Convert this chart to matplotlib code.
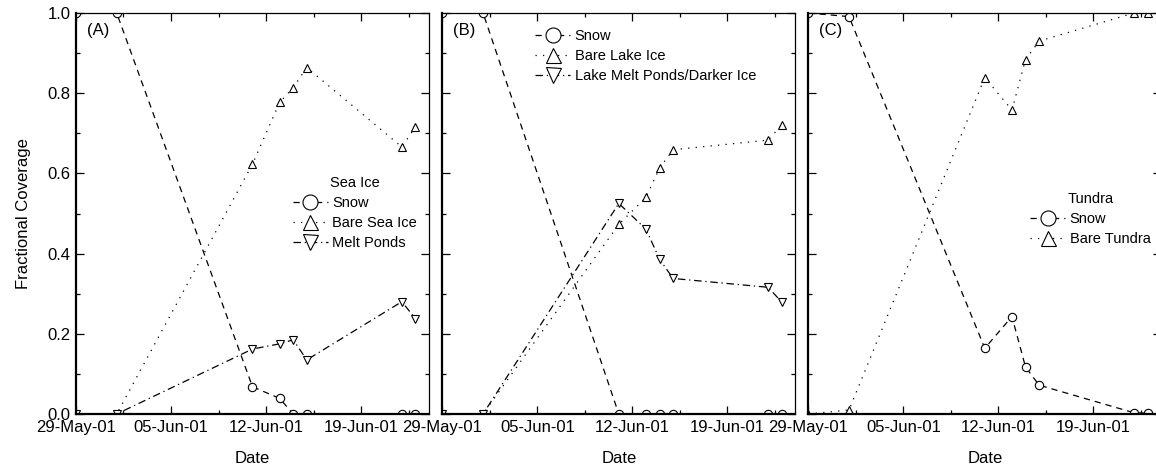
import datetime as dt
import numpy as np
import matplotlib
matplotlib.use("Agg")
from matplotlib import pyplot as plt
import matplotlib.dates as mdates
from matplotlib.ticker import MultipleLocator, FixedLocator

plt.rcParams['font.family'] = ['Liberation Sans', 'DejaVu Sans']

# observation dates (2001)
dates = ['2001-05-29', '2001-06-01', '2001-06-11', '2001-06-13',
         '2001-06-14', '2001-06-15', '2001-06-22', '2001-06-23']

# (A) sea ice
sea_snow = [1.0, 1.0, 0.068, 0.039, 0.0, 0.0, 0.0, 0.0]
sea_bare = [0.0, 0.0, 0.623, 0.777, 0.814, 0.864, 0.666, 0.716]
sea_ponds = [0.0, 0.0, 0.162, 0.175, 0.185, 0.135, 0.280, 0.238]

# (B) lake ice
lake_snow = [1.0, 1.0, 0.0, 0.0, 0.0, 0.0, 0.0, 0.0]
lake_bare = [0.0, 0.0, 0.473, 0.540, 0.613, 0.659, 0.683, 0.721]
lake_ponds = [0.0, 0.0, 0.525, 0.461, 0.386, 0.338, 0.316, 0.279]

# (C) tundra
tun_snow = [1.0, 0.991, 0.164, 0.243, 0.117, 0.072, 0.003, 0.002]
tun_bare = [0.0, 0.010, 0.839, 0.758, 0.884, 0.930, 1.0, 1.0]

major_dates = ['2001-05-29', '2001-06-05', '2001-06-12', '2001-06-19', '2001-06-26']
xlim_dates = ['2001-05-29', '2001-06-24']

x = mdates.date2num([dt.datetime.strptime(d, '%Y-%m-%d') for d in dates])
xmaj = mdates.date2num([dt.datetime.strptime(d, '%Y-%m-%d') for d in major_dates])
xlim = mdates.date2num([dt.datetime.strptime(d, '%Y-%m-%d') for d in xlim_dates])

fig = plt.figure(figsize=(11.56, 4.71), dpi=100)
W = 0.3054
H = 0.8514
B = 0.121
axA = fig.add_axes([0.0657, B, W, H])
axB = fig.add_axes([0.3826, B, W, H])
axC = fig.add_axes([0.6992, B, W, H])

mk = dict(markersize=6, markerfacecolor='white', markeredgecolor='black',
          markeredgewidth=0.8, color='black', linewidth=0.9)
leg_kw = dict(frameon=False, fontsize=10.5, markerscale=1.8,
              handlelength=2.4, handletextpad=0.3, labelspacing=0.42,
              borderpad=0.2)


def style_axis(ax, letter, ylabels):
    ax.set_xlim(xlim[0], xlim[1])
    ax.set_ylim(0, 1.0)
    ax.xaxis.set_major_locator(FixedLocator(xmaj))
    ax.xaxis.set_minor_locator(FixedLocator(xmaj + 3.5))
    ax.xaxis.set_major_formatter(mdates.DateFormatter('%d-%b-%y'))
    ax.yaxis.set_major_locator(MultipleLocator(0.2))
    ax.yaxis.set_minor_locator(MultipleLocator(0.1))
    ax.tick_params(which='both', direction='in', top=True, right=True,
                   labelsize=12, pad=4)
    ax.tick_params(which='major', length=6, width=0.9)
    ax.tick_params(which='minor', length=3, width=0.9)
    if not ylabels:
        ax.tick_params(labelleft=False)
    ax.spines['left'].set_linewidth(1.6)
    ax.spines['bottom'].set_linewidth(1.6)
    ax.spines['top'].set_linewidth(0.9)
    ax.spines['right'].set_linewidth(0.9)
    for lab in ax.get_xticklabels():
        lab.set_clip_on(False)
    ax.set_xlabel('Date', fontsize=12, labelpad=12)
    ax.text(0.03, 0.975, letter, transform=ax.transAxes, fontsize=12,
            va='top', ha='left')


# panel A
axA.plot(x, sea_snow, marker='o', linestyle=(0, (5, 4)), label='Snow', **mk)
axA.plot(x, sea_bare, marker='^', linestyle=(0, (1, 5)), label='Bare Sea Ice', **mk)
axA.plot(x, sea_ponds, marker='v', linestyle=(0, (6, 3, 1, 3)), label='Melt Ponds', **mk)
style_axis(axA, '(A)', True)
axA.set_ylabel('Fractional Coverage', fontsize=12, labelpad=12)
axA.legend(title='Sea Ice', loc='upper left', bbox_to_anchor=(0.585, 0.62),
           title_fontsize=10.5, **leg_kw)

# panel B
axB.plot(x, lake_snow, marker='o', linestyle=(0, (5, 4)), label='Snow', **mk)
axB.plot(x, lake_bare, marker='^', linestyle=(0, (1, 5)), label='Bare Lake Ice', **mk)
axB.plot(x, lake_ponds, marker='v', linestyle=(0, (6, 3, 1, 3)),
         label='Lake Melt Ponds/Darker Ice', **mk)
style_axis(axB, '(B)', False)
axB.legend(loc='upper left', bbox_to_anchor=(0.235, 0.985), **leg_kw)

# panel C
axC.plot(x, tun_snow, marker='o', linestyle=(0, (5, 4)), label='Snow', **mk)
axC.plot(x, tun_bare, marker='^', linestyle=(0, (1, 5)), label='Bare Tundra', **mk)
style_axis(axC, '(C)', False)
axC.legend(title='Tundra', loc='upper left', bbox_to_anchor=(0.6, 0.58),
           title_fontsize=10.5, **leg_kw)

fig.savefig('out.png', dpi=100)
